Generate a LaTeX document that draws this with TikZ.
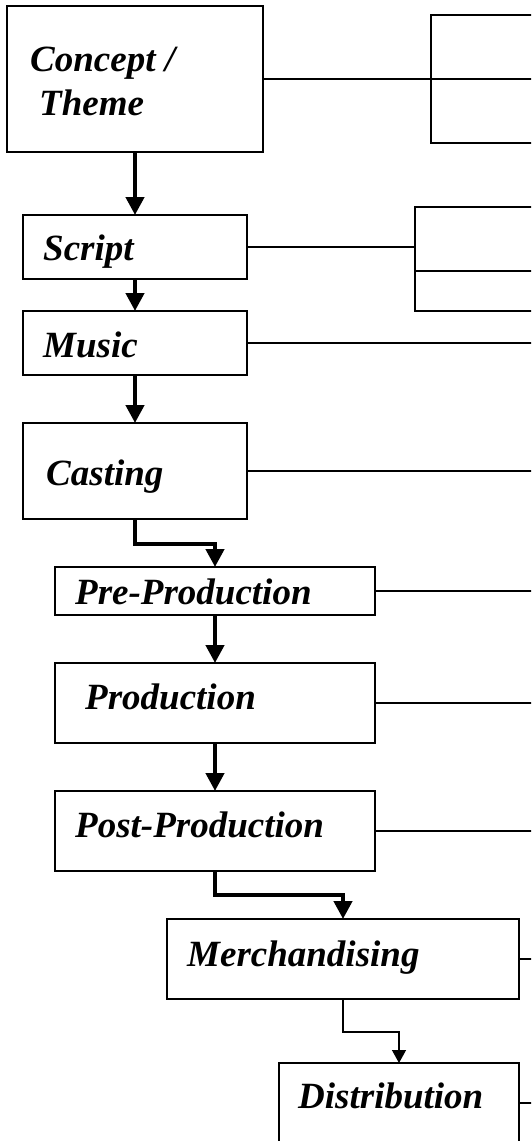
\documentclass[tikz,border=0pt]{standalone}
\usepackage{fontspec}
\setmainfont{Liberation Serif}
\usetikzlibrary{arrows.meta}
\tikzset{
  box/.style={draw, line width=1.6pt, rectangle, inner sep=0pt, outer sep=0pt},
  lbl/.style={anchor=base west, inner sep=0pt, font=\fontsize{37}{40}\selectfont\bfseries\itshape},
  conn/.style={line width=1.3pt},
  connbold/.style={line width=2pt},
  flowthick/.style={line width=4.3pt, -{Triangle[width=18pt,length=18pt]}},
  flowthin/.style={line width=1.3pt, -{Triangle[width=14pt,length=13pt]}},
}
\begin{document}
\begin{tikzpicture}[x=1pt,y=-1pt]
\useasboundingbox (0,0) rectangle (531,1141);
\clip (0,0) rectangle (531,1141);
% main boxes
\node[box, minimum width=256pt, minimum height=146pt] (concept) at (135,79) {};
\node[box, minimum width=224pt, minimum height=64pt] (script) at (135,247) {};
\node[box, minimum width=224pt, minimum height=64pt] (music) at (135,343) {};
\node[box, minimum width=224pt, minimum height=96pt] (casting) at (135,471) {};
\node[box, minimum width=320pt, minimum height=48pt] (pre) at (215,591) {};
\node[box, minimum width=320pt, minimum height=80pt] (prod) at (215,703) {};
\node[box, minimum width=320pt, minimum height=80pt] (post) at (215,831) {};
\node[box, minimum width=352pt, minimum height=80pt] (merch) at (343,959) {};
\node[box, minimum width=240pt, minimum height=80pt] (dist) at (399,1103) {};
% right-side boxes (cut off by the page edge)
\node[box, minimum width=114pt, minimum height=128pt] (boxA) at (488,79) {};
\node[box, minimum width=130pt, minimum height=104pt] (boxB) at (480,259) {};
% labels
\node[lbl] (tconcept) at (30,71) {Concept /};
\node[lbl] (ttheme) at (39,115) {Theme};
\node[lbl] (tscript) at (43,260) {Script};
\node[lbl] (tmusic) at (43,357) {Music};
\node[lbl] (tcasting) at (46,485) {Casting};
\node[lbl] (tpre) at (75,604) {Pre-Production};
\node[lbl] (tprod) at (85,709) {Production};
\node[lbl] (tpost) at (75,837) {Post-Production};
\node[lbl] (tmerch) at (187,966) {Merchandising};
\node[lbl] (tdist) at (298,1108) {Distribution};
% dividers of right-side boxes
\draw[conn] (boxA.west) -- (boxA.east);
\coordinate (bdiv) at (415,271);
\draw[conn] (bdiv) -- (bdiv -| boxB.east);
% side connectors
\coordinate (edge) at (545,0);
\draw[connbold] (concept.east) -- (boxA.west);
\draw[connbold] (script.east) -- (script.east -| boxB.west);
\draw[conn] (music.east) -- (music.east -| edge);
\draw[conn] (casting.east) -- (casting.east -| edge);
\draw[conn] (pre.east) -- (pre.east -| edge);
\draw[conn] (prod.east) -- (prod.east -| edge);
\draw[conn] (post.east) -- (post.east -| edge);
\draw[conn] (merch.east) -- (merch.east -| edge);
\draw[conn] (dist.east) -- (dist.east -| edge);
% flow arrows
\draw[flowthick] (concept.south) -- (script.north);
\draw[flowthick] (script.south) -- (music.north);
\draw[flowthick] (music.south) -- (casting.north);
\draw[flowthick] (casting.south) -- ++(0,25) -| (pre.north);
\draw[flowthick] (pre.south) -- (prod.north);
\draw[flowthick] (prod.south) -- (post.north);
\draw[flowthick] (post.south) -- ++(0,24) -| (merch.north);
\draw[flowthin] (merch.south) -- ++(0,33) -| (dist.north);
\end{tikzpicture}
\end{document}
